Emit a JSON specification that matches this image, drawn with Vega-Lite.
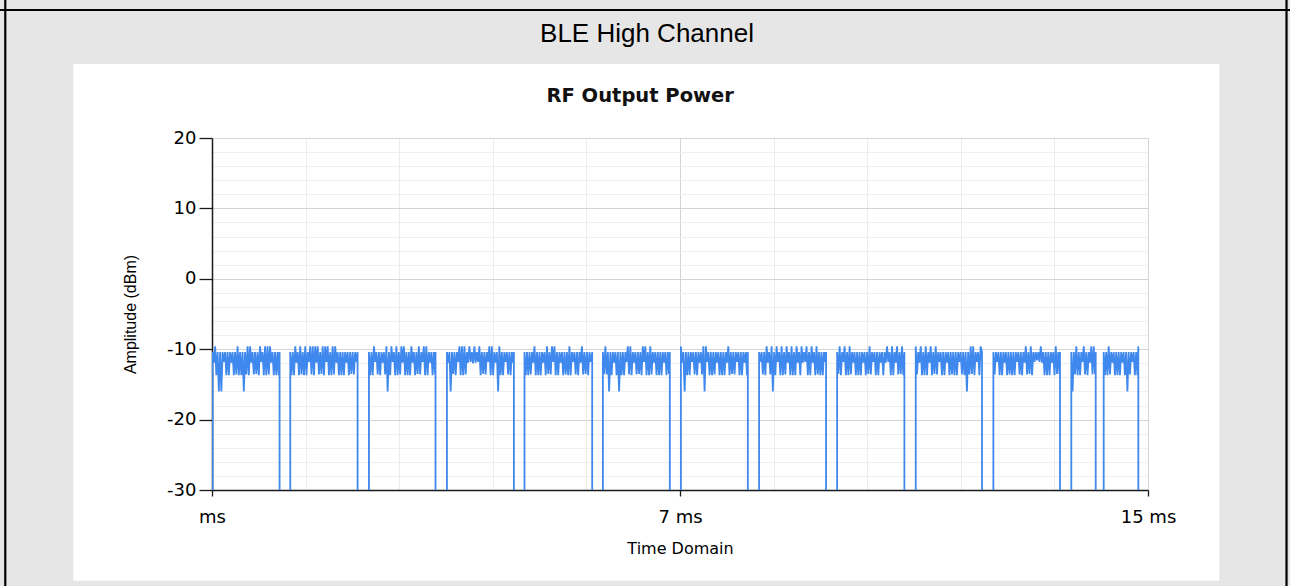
{
"$schema": "https://vega.github.io/schema/vega-lite/v6.json",
"width": 936, "height": 352,
"autosize": {"type": "none"},
"padding": {"left": 212, "top": 138, "right": 142, "bottom": 96},
"background": "white",
"config": {
  "view": {"stroke": "#d4d4d4", "strokeWidth": 1},
  "axis": {"labelFont": "DejaVu Sans", "titleFont": "DejaVu Sans", "labelColor": "#000000", "titleColor": "#000000", "titleFontWeight": "normal", "domainColor": "#1a1a1a", "tickColor": "#1a1a1a"}
},
"resolve": {"axis": {"x": "independent", "y": "independent"}},
"layer": [
  {
    "data": {"values": [{}]},
    "mark": {"type": "rect", "fill": "#e6e6e6", "clip": false},
    "encoding": {
      "x": {"datum": -10, "type": "quantitative", "scale": {"domain": [0, 15], "nice": false, "zero": false},
        "axis": {"orient": "bottom", "values": [1.5, 3, 4.5, 6, 9, 10.5, 12, 13.5], "grid": true, "gridColor": "#ececec", "labels": false, "ticks": false, "domain": false, "title": null}},
      "x2": {"datum": 30},
      "y": {"datum": 30.51, "type": "quantitative", "scale": {"domain": [-30, 20], "nice": false, "zero": false},
        "axis": {"orient": "left", "values": [-28, -26, -24, -22, -18, -16, -14, -12, -8, -6, -4, -2, 2, 4, 6, 8, 12, 14, 16, 18], "grid": true, "gridColor": "#efefef", "labels": false, "ticks": false, "domain": false, "title": null}},
      "y2": {"datum": 60}
    }
  },
  {
    "data": {"values": [{}]},
    "mark": {"type": "rect", "fill": "#e6e6e6", "clip": false},
    "encoding": {
      "x": {"datum": -10, "type": "quantitative", "scale": {"domain": [0, 15], "nice": false, "zero": false}, "axis": null},
      "x2": {"datum": 30},
      "y": {"datum": -42.88, "type": "quantitative", "scale": {"domain": [-30, 20], "nice": false, "zero": false}, "axis": null},
      "y2": {"datum": -60}
    }
  },
  {
    "data": {"values": [{}]},
    "mark": {"type": "rect", "fill": "#e6e6e6", "clip": false},
    "encoding": {
      "x": {"datum": -10, "type": "quantitative", "scale": {"domain": [0, 15], "nice": false, "zero": false}, "axis": null},
      "x2": {"datum": -2.223},
      "y": {"datum": -60, "type": "quantitative", "scale": {"domain": [-30, 20], "nice": false, "zero": false}, "axis": null},
      "y2": {"datum": 60}
    }
  },
  {
    "data": {"values": [{}]},
    "mark": {"type": "rect", "fill": "#e6e6e6", "clip": false},
    "encoding": {
      "x": {"datum": 16.143, "type": "quantitative", "scale": {"domain": [0, 15], "nice": false, "zero": false}, "axis": null},
      "x2": {"datum": 30},
      "y": {"datum": -60, "type": "quantitative", "scale": {"domain": [-30, 20], "nice": false, "zero": false}, "axis": null},
      "y2": {"datum": 60}
    }
  },
  {
    "data": {"values": [{}]},
    "mark": {"type": "rule", "color": "#000000", "strokeWidth": 2.2, "clip": false},
    "encoding": {
      "x": {"datum": -10, "type": "quantitative", "scale": {"domain": [0, 15], "nice": false, "zero": false}, "axis": null},
      "x2": {"datum": 30},
      "y": {"datum": 38.18, "type": "quantitative", "scale": {"domain": [-30, 20], "nice": false, "zero": false}, "axis": null}
    }
  },
  {
    "data": {"values": [{}]},
    "mark": {"type": "rule", "color": "#000000", "strokeWidth": 2.2, "clip": false},
    "encoding": {
      "x": {"datum": -3.313, "type": "quantitative", "scale": {"domain": [0, 15], "nice": false, "zero": false}, "axis": null},
      "y": {"datum": -60, "type": "quantitative", "scale": {"domain": [-30, 20], "nice": false, "zero": false}, "axis": null},
      "y2": {"datum": 60}
    }
  },
  {
    "data": {"values": [{}]},
    "mark": {"type": "rule", "color": "#000000", "strokeWidth": 2.2, "clip": false},
    "encoding": {
      "x": {"datum": 17.22, "type": "quantitative", "scale": {"domain": [0, 15], "nice": false, "zero": false}, "axis": null},
      "y": {"datum": -60, "type": "quantitative", "scale": {"domain": [-30, 20], "nice": false, "zero": false}, "axis": null},
      "y2": {"datum": 60}
    }
  },
  {
    "data": {"values": [{}]},
    "mark": {"type": "text", "text": "BLE High Channel", "font": "Liberation Sans", "fontSize": 26, "color": "#000000", "align": "center", "baseline": "alphabetic", "clip": false},
    "encoding": {
      "x": {"datum": 6.971, "type": "quantitative", "scale": {"domain": [0, 15], "nice": false, "zero": false}, "axis": null},
      "y": {"datum": 33.68, "type": "quantitative", "scale": {"domain": [-30, 20], "nice": false, "zero": false}, "axis": null}
    }
  },
  {
    "data": {"values": [{}]},
    "mark": {"type": "text", "text": "RF Output Power", "font": "DejaVu Sans", "fontWeight": "bold", "fontSize": 19.5, "color": "#111111", "align": "center", "baseline": "alphabetic", "clip": false},
    "encoding": {
      "x": {"datum": 6.862, "type": "quantitative", "scale": {"domain": [0, 15], "nice": false, "zero": false}, "axis": null},
      "y": {"datum": 25.15, "type": "quantitative", "scale": {"domain": [-30, 20], "nice": false, "zero": false}, "axis": null}
    }
  },
  {
    "data": {"values": [
{"ms":0.01,"dBm":-35},
{"ms":0.01,"dBm":-10.4},{"ms":0.03,"dBm":-11.9},{"ms":0.05,"dBm":-9.6},{"ms":0.07,"dBm":-13.7},{"ms":0.09,"dBm":-10.4},{"ms":0.11,"dBm":-16},{"ms":0.13,"dBm":-10.4},{"ms":0.15,"dBm":-16},{"ms":0.17,"dBm":-10.4},{"ms":0.19,"dBm":-11.8},{"ms":0.21,"dBm":-10.4},{"ms":0.23,"dBm":-13.7},{"ms":0.25,"dBm":-10.4},{"ms":0.27,"dBm":-13.7},{"ms":0.29,"dBm":-10.4},{"ms":0.31,"dBm":-11.9},{"ms":0.33,"dBm":-10.4},{"ms":0.35,"dBm":-13.7},{"ms":0.37,"dBm":-10.4},{"ms":0.39,"dBm":-13.6},{"ms":0.41,"dBm":-9.6},{"ms":0.43,"dBm":-13.7},{"ms":0.45,"dBm":-10.4},{"ms":0.47,"dBm":-13.7},{"ms":0.49,"dBm":-10.4},{"ms":0.51,"dBm":-16},{"ms":0.53,"dBm":-10.4},{"ms":0.55,"dBm":-13.6},{"ms":0.57,"dBm":-9.6},{"ms":0.59,"dBm":-13.7},{"ms":0.61,"dBm":-9.6},{"ms":0.63,"dBm":-11.9},{"ms":0.65,"dBm":-10.4},{"ms":0.67,"dBm":-13.6},{"ms":0.69,"dBm":-10.4},{"ms":0.71,"dBm":-13.5},{"ms":0.73,"dBm":-10.4},{"ms":0.75,"dBm":-13.7},{"ms":0.77,"dBm":-9.6},{"ms":0.79,"dBm":-11.8},{"ms":0.81,"dBm":-10.4},{"ms":0.83,"dBm":-13.7},{"ms":0.85,"dBm":-9.6},{"ms":0.87,"dBm":-13.7},{"ms":0.89,"dBm":-9.6},{"ms":0.91,"dBm":-13.6},{"ms":0.93,"dBm":-9.6},{"ms":0.95,"dBm":-11.9},{"ms":0.97,"dBm":-10.4},{"ms":0.99,"dBm":-13.7},{"ms":1.01,"dBm":-10.4},{"ms":1.03,"dBm":-13.7},{"ms":1.05,"dBm":-10.4},{"ms":1.07,"dBm":-13.7},{"ms":1.083,"dBm":-10.4},{"ms":1.083,"dBm":-35},
{"ms":1.254,"dBm":-35},{"ms":1.254,"dBm":-10.4},{"ms":1.274,"dBm":-13.7},{"ms":1.294,"dBm":-10.4},{"ms":1.314,"dBm":-13.7},{"ms":1.334,"dBm":-9.6},{"ms":1.354,"dBm":-11.9},{"ms":1.374,"dBm":-10.4},{"ms":1.394,"dBm":-13.7},{"ms":1.414,"dBm":-9.6},{"ms":1.434,"dBm":-13.6},{"ms":1.454,"dBm":-10.4},{"ms":1.474,"dBm":-13.7},{"ms":1.494,"dBm":-9.6},{"ms":1.514,"dBm":-13.7},{"ms":1.534,"dBm":-10.4},{"ms":1.554,"dBm":-11.8},{"ms":1.574,"dBm":-9.6},{"ms":1.594,"dBm":-13.6},{"ms":1.614,"dBm":-9.6},{"ms":1.634,"dBm":-13.7},{"ms":1.654,"dBm":-9.6},{"ms":1.674,"dBm":-11.9},{"ms":1.694,"dBm":-9.6},{"ms":1.714,"dBm":-13.6},{"ms":1.734,"dBm":-10.4},{"ms":1.754,"dBm":-13.5},{"ms":1.774,"dBm":-9.6},{"ms":1.794,"dBm":-13.7},{"ms":1.814,"dBm":-9.6},{"ms":1.834,"dBm":-11.8},{"ms":1.854,"dBm":-9.6},{"ms":1.874,"dBm":-13.7},{"ms":1.894,"dBm":-10.4},{"ms":1.914,"dBm":-13.7},{"ms":1.934,"dBm":-9.6},{"ms":1.954,"dBm":-13.6},{"ms":1.974,"dBm":-9.6},{"ms":1.994,"dBm":-11.9},{"ms":2.014,"dBm":-10.4},{"ms":2.034,"dBm":-13.7},{"ms":2.054,"dBm":-10.4},{"ms":2.074,"dBm":-13.7},{"ms":2.094,"dBm":-10.4},{"ms":2.114,"dBm":-13.7},{"ms":2.134,"dBm":-10.4},{"ms":2.154,"dBm":-11.9},{"ms":2.174,"dBm":-10.4},{"ms":2.194,"dBm":-13.7},{"ms":2.214,"dBm":-10.4},{"ms":2.234,"dBm":-13.5},{"ms":2.254,"dBm":-10.4},{"ms":2.274,"dBm":-13.6},{"ms":2.294,"dBm":-10.4},{"ms":2.314,"dBm":-11.8},{"ms":2.333,"dBm":-10.4},{"ms":2.333,"dBm":-35},
{"ms":2.515,"dBm":-35},{"ms":2.515,"dBm":-10.4},{"ms":2.535,"dBm":-13.7},{"ms":2.555,"dBm":-10.4},{"ms":2.575,"dBm":-13.7},{"ms":2.595,"dBm":-9.6},{"ms":2.615,"dBm":-11.8},{"ms":2.635,"dBm":-10.4},{"ms":2.655,"dBm":-13.6},{"ms":2.675,"dBm":-10.4},{"ms":2.695,"dBm":-13.7},{"ms":2.715,"dBm":-10.4},{"ms":2.735,"dBm":-11.9},{"ms":2.755,"dBm":-10.4},{"ms":2.775,"dBm":-13.6},{"ms":2.795,"dBm":-9.6},{"ms":2.815,"dBm":-16},{"ms":2.835,"dBm":-10.4},{"ms":2.855,"dBm":-13.7},{"ms":2.875,"dBm":-9.6},{"ms":2.895,"dBm":-11.8},{"ms":2.915,"dBm":-10.4},{"ms":2.935,"dBm":-13.7},{"ms":2.955,"dBm":-9.6},{"ms":2.975,"dBm":-13.7},{"ms":2.995,"dBm":-10.4},{"ms":3.015,"dBm":-13.6},{"ms":3.035,"dBm":-9.6},{"ms":3.055,"dBm":-11.9},{"ms":3.075,"dBm":-9.6},{"ms":3.095,"dBm":-13.7},{"ms":3.115,"dBm":-10.4},{"ms":3.135,"dBm":-13.7},{"ms":3.155,"dBm":-10.4},{"ms":3.175,"dBm":-13.7},{"ms":3.195,"dBm":-9.6},{"ms":3.215,"dBm":-11.9},{"ms":3.235,"dBm":-10.4},{"ms":3.255,"dBm":-13.7},{"ms":3.275,"dBm":-10.4},{"ms":3.295,"dBm":-13.5},{"ms":3.315,"dBm":-9.6},{"ms":3.335,"dBm":-13.6},{"ms":3.355,"dBm":-10.4},{"ms":3.375,"dBm":-11.8},{"ms":3.395,"dBm":-9.6},{"ms":3.415,"dBm":-13.7},{"ms":3.435,"dBm":-9.6},{"ms":3.455,"dBm":-13.7},{"ms":3.475,"dBm":-10.4},{"ms":3.495,"dBm":-11.9},{"ms":3.515,"dBm":-10.4},{"ms":3.535,"dBm":-13.7},{"ms":3.555,"dBm":-10.4},{"ms":3.575,"dBm":-13.6},{"ms":3.582,"dBm":-10.4},{"ms":3.582,"dBm":-35},
{"ms":3.765,"dBm":-35},{"ms":3.765,"dBm":-10.4},{"ms":3.785,"dBm":-11.9},{"ms":3.805,"dBm":-10.4},{"ms":3.825,"dBm":-16},{"ms":3.845,"dBm":-10.4},{"ms":3.865,"dBm":-13.5},{"ms":3.885,"dBm":-10.4},{"ms":3.905,"dBm":-13.7},{"ms":3.925,"dBm":-10.4},{"ms":3.945,"dBm":-11.8},{"ms":3.965,"dBm":-9.6},{"ms":3.985,"dBm":-13.7},{"ms":4.005,"dBm":-9.6},{"ms":4.025,"dBm":-13.7},{"ms":4.045,"dBm":-9.6},{"ms":4.065,"dBm":-13.6},{"ms":4.085,"dBm":-10.4},{"ms":4.105,"dBm":-11.9},{"ms":4.125,"dBm":-9.6},{"ms":4.145,"dBm":-11.8},{"ms":4.165,"dBm":-10.4},{"ms":4.185,"dBm":-12.0},{"ms":4.205,"dBm":-9.6},{"ms":4.225,"dBm":-11.9},{"ms":4.245,"dBm":-10.4},{"ms":4.265,"dBm":-11.8},{"ms":4.285,"dBm":-9.6},{"ms":4.305,"dBm":-13.7},{"ms":4.325,"dBm":-10.4},{"ms":4.345,"dBm":-13.5},{"ms":4.365,"dBm":-10.4},{"ms":4.385,"dBm":-13.6},{"ms":4.405,"dBm":-10.4},{"ms":4.425,"dBm":-11.8},{"ms":4.445,"dBm":-9.6},{"ms":4.465,"dBm":-13.7},{"ms":4.485,"dBm":-9.6},{"ms":4.505,"dBm":-13.7},{"ms":4.525,"dBm":-10.4},{"ms":4.545,"dBm":-11.9},{"ms":4.565,"dBm":-10.4},{"ms":4.585,"dBm":-16},{"ms":4.605,"dBm":-9.6},{"ms":4.625,"dBm":-13.7},{"ms":4.645,"dBm":-10.4},{"ms":4.665,"dBm":-13.7},{"ms":4.685,"dBm":-10.4},{"ms":4.705,"dBm":-11.8},{"ms":4.725,"dBm":-10.4},{"ms":4.745,"dBm":-13.6},{"ms":4.765,"dBm":-10.4},{"ms":4.785,"dBm":-13.7},{"ms":4.805,"dBm":-10.4},{"ms":4.825,"dBm":-11.9},{"ms":4.838,"dBm":-10.4},{"ms":4.838,"dBm":-35},
{"ms":5.008,"dBm":-35},{"ms":5.008,"dBm":-10.4},{"ms":5.028,"dBm":-13.7},{"ms":5.048,"dBm":-10.4},{"ms":5.068,"dBm":-13.7},{"ms":5.088,"dBm":-10.4},{"ms":5.108,"dBm":-13.6},{"ms":5.128,"dBm":-10.4},{"ms":5.148,"dBm":-11.9},{"ms":5.168,"dBm":-9.6},{"ms":5.188,"dBm":-13.7},{"ms":5.208,"dBm":-10.4},{"ms":5.228,"dBm":-13.7},{"ms":5.248,"dBm":-10.4},{"ms":5.268,"dBm":-13.7},{"ms":5.288,"dBm":-10.4},{"ms":5.308,"dBm":-11.9},{"ms":5.328,"dBm":-10.4},{"ms":5.348,"dBm":-13.7},{"ms":5.368,"dBm":-9.6},{"ms":5.388,"dBm":-13.5},{"ms":5.408,"dBm":-10.4},{"ms":5.428,"dBm":-13.6},{"ms":5.448,"dBm":-9.6},{"ms":5.468,"dBm":-11.8},{"ms":5.488,"dBm":-9.6},{"ms":5.508,"dBm":-13.7},{"ms":5.528,"dBm":-10.4},{"ms":5.548,"dBm":-13.7},{"ms":5.568,"dBm":-10.4},{"ms":5.588,"dBm":-11.9},{"ms":5.608,"dBm":-10.4},{"ms":5.628,"dBm":-13.7},{"ms":5.648,"dBm":-10.4},{"ms":5.668,"dBm":-13.6},{"ms":5.688,"dBm":-10.4},{"ms":5.708,"dBm":-13.7},{"ms":5.728,"dBm":-9.6},{"ms":5.748,"dBm":-13.7},{"ms":5.768,"dBm":-10.4},{"ms":5.788,"dBm":-11.8},{"ms":5.808,"dBm":-10.4},{"ms":5.828,"dBm":-13.6},{"ms":5.848,"dBm":-10.4},{"ms":5.868,"dBm":-13.7},{"ms":5.888,"dBm":-10.4},{"ms":5.908,"dBm":-11.9},{"ms":5.928,"dBm":-9.6},{"ms":5.948,"dBm":-13.6},{"ms":5.968,"dBm":-10.4},{"ms":5.988,"dBm":-13.5},{"ms":6.008,"dBm":-10.4},{"ms":6.028,"dBm":-13.7},{"ms":6.048,"dBm":-10.4},{"ms":6.068,"dBm":-11.8},{"ms":6.093,"dBm":-10.4},{"ms":6.093,"dBm":-35},
{"ms":6.264,"dBm":-35},{"ms":6.264,"dBm":-10.4},{"ms":6.284,"dBm":-13.5},{"ms":6.304,"dBm":-9.6},{"ms":6.324,"dBm":-13.6},{"ms":6.344,"dBm":-10.4},{"ms":6.364,"dBm":-16},{"ms":6.384,"dBm":-10.4},{"ms":6.404,"dBm":-13.7},{"ms":6.424,"dBm":-10.4},{"ms":6.444,"dBm":-11.9},{"ms":6.464,"dBm":-10.4},{"ms":6.484,"dBm":-13.7},{"ms":6.504,"dBm":-10.4},{"ms":6.524,"dBm":-16},{"ms":6.544,"dBm":-10.4},{"ms":6.564,"dBm":-13.7},{"ms":6.584,"dBm":-10.4},{"ms":6.604,"dBm":-13.7},{"ms":6.624,"dBm":-10.4},{"ms":6.644,"dBm":-11.8},{"ms":6.664,"dBm":-9.6},{"ms":6.684,"dBm":-13.6},{"ms":6.704,"dBm":-9.6},{"ms":6.724,"dBm":-13.7},{"ms":6.744,"dBm":-10.4},{"ms":6.764,"dBm":-11.9},{"ms":6.784,"dBm":-10.4},{"ms":6.804,"dBm":-13.6},{"ms":6.824,"dBm":-10.4},{"ms":6.844,"dBm":-13.5},{"ms":6.864,"dBm":-10.4},{"ms":6.884,"dBm":-13.7},{"ms":6.904,"dBm":-9.6},{"ms":6.924,"dBm":-11.8},{"ms":6.944,"dBm":-9.6},{"ms":6.964,"dBm":-13.7},{"ms":6.984,"dBm":-10.4},{"ms":7.004,"dBm":-13.7},{"ms":7.024,"dBm":-9.6},{"ms":7.044,"dBm":-13.6},{"ms":7.064,"dBm":-10.4},{"ms":7.084,"dBm":-11.9},{"ms":7.104,"dBm":-10.4},{"ms":7.124,"dBm":-13.7},{"ms":7.144,"dBm":-10.4},{"ms":7.164,"dBm":-13.7},{"ms":7.184,"dBm":-10.4},{"ms":7.204,"dBm":-13.7},{"ms":7.224,"dBm":-10.4},{"ms":7.244,"dBm":-11.9},{"ms":7.264,"dBm":-10.4},{"ms":7.284,"dBm":-13.7},{"ms":7.304,"dBm":-10.4},{"ms":7.324,"dBm":-13.5},{"ms":7.337,"dBm":-10.4},{"ms":7.337,"dBm":-35},
{"ms":7.514,"dBm":-35},{"ms":7.514,"dBm":-9.6},{"ms":7.534,"dBm":-11.9},{"ms":7.554,"dBm":-10.4},{"ms":7.574,"dBm":-16},{"ms":7.594,"dBm":-10.4},{"ms":7.614,"dBm":-13.7},{"ms":7.634,"dBm":-10.4},{"ms":7.654,"dBm":-13.7},{"ms":7.674,"dBm":-10.4},{"ms":7.694,"dBm":-11.8},{"ms":7.714,"dBm":-10.4},{"ms":7.734,"dBm":-13.6},{"ms":7.754,"dBm":-10.4},{"ms":7.774,"dBm":-13.7},{"ms":7.794,"dBm":-10.4},{"ms":7.814,"dBm":-11.9},{"ms":7.834,"dBm":-10.4},{"ms":7.854,"dBm":-13.6},{"ms":7.874,"dBm":-9.6},{"ms":7.894,"dBm":-16},{"ms":7.914,"dBm":-9.6},{"ms":7.934,"dBm":-11.8},{"ms":7.954,"dBm":-10.4},{"ms":7.974,"dBm":-13.7},{"ms":7.994,"dBm":-10.4},{"ms":8.014,"dBm":-13.7},{"ms":8.034,"dBm":-10.4},{"ms":8.054,"dBm":-13.6},{"ms":8.074,"dBm":-10.4},{"ms":8.094,"dBm":-11.9},{"ms":8.114,"dBm":-10.4},{"ms":8.134,"dBm":-13.7},{"ms":8.154,"dBm":-10.4},{"ms":8.174,"dBm":-13.7},{"ms":8.194,"dBm":-10.4},{"ms":8.214,"dBm":-13.7},{"ms":8.234,"dBm":-10.4},{"ms":8.254,"dBm":-11.9},{"ms":8.274,"dBm":-9.6},{"ms":8.294,"dBm":-13.7},{"ms":8.314,"dBm":-10.4},{"ms":8.334,"dBm":-13.5},{"ms":8.354,"dBm":-10.4},{"ms":8.374,"dBm":-13.6},{"ms":8.394,"dBm":-10.4},{"ms":8.414,"dBm":-11.8},{"ms":8.434,"dBm":-10.4},{"ms":8.454,"dBm":-13.7},{"ms":8.474,"dBm":-10.4},{"ms":8.494,"dBm":-13.7},{"ms":8.514,"dBm":-10.4},{"ms":8.534,"dBm":-11.9},{"ms":8.554,"dBm":-10.4},{"ms":8.574,"dBm":-13.7},{"ms":8.587,"dBm":-10.4},{"ms":8.587,"dBm":-35},
{"ms":8.768,"dBm":-35},{"ms":8.768,"dBm":-10.4},{"ms":8.788,"dBm":-11.8},{"ms":8.808,"dBm":-10.4},{"ms":8.828,"dBm":-13.6},{"ms":8.848,"dBm":-10.4},{"ms":8.868,"dBm":-13.7},{"ms":8.888,"dBm":-9.6},{"ms":8.908,"dBm":-11.9},{"ms":8.928,"dBm":-10.4},{"ms":8.948,"dBm":-13.6},{"ms":8.968,"dBm":-9.6},{"ms":8.988,"dBm":-16},{"ms":9.008,"dBm":-10.4},{"ms":9.028,"dBm":-13.7},{"ms":9.048,"dBm":-9.6},{"ms":9.068,"dBm":-11.8},{"ms":9.088,"dBm":-10.4},{"ms":9.108,"dBm":-13.7},{"ms":9.128,"dBm":-9.6},{"ms":9.148,"dBm":-13.7},{"ms":9.168,"dBm":-10.4},{"ms":9.188,"dBm":-13.6},{"ms":9.208,"dBm":-9.6},{"ms":9.228,"dBm":-11.9},{"ms":9.248,"dBm":-10.4},{"ms":9.268,"dBm":-13.7},{"ms":9.288,"dBm":-9.6},{"ms":9.308,"dBm":-13.7},{"ms":9.328,"dBm":-10.4},{"ms":9.348,"dBm":-13.7},{"ms":9.368,"dBm":-9.6},{"ms":9.388,"dBm":-11.9},{"ms":9.408,"dBm":-10.4},{"ms":9.428,"dBm":-13.7},{"ms":9.448,"dBm":-9.6},{"ms":9.468,"dBm":-11.9},{"ms":9.488,"dBm":-10.4},{"ms":9.508,"dBm":-11.8},{"ms":9.528,"dBm":-9.6},{"ms":9.548,"dBm":-13.7},{"ms":9.568,"dBm":-10.4},{"ms":9.588,"dBm":-13.7},{"ms":9.608,"dBm":-9.6},{"ms":9.628,"dBm":-11.9},{"ms":9.648,"dBm":-10.4},{"ms":9.668,"dBm":-13.7},{"ms":9.688,"dBm":-9.6},{"ms":9.708,"dBm":-13.6},{"ms":9.728,"dBm":-10.4},{"ms":9.748,"dBm":-13.7},{"ms":9.768,"dBm":-10.4},{"ms":9.788,"dBm":-13.7},{"ms":9.808,"dBm":-10.4},{"ms":9.828,"dBm":-11.8},{"ms":9.841,"dBm":-10.4},{"ms":9.841,"dBm":-35},
{"ms":10.018,"dBm":-35},{"ms":10.018,"dBm":-10.4},{"ms":10.038,"dBm":-13.5},{"ms":10.058,"dBm":-9.6},{"ms":10.078,"dBm":-13.7},{"ms":10.098,"dBm":-10.4},{"ms":10.118,"dBm":-11.8},{"ms":10.138,"dBm":-9.6},{"ms":10.158,"dBm":-13.7},{"ms":10.178,"dBm":-10.4},{"ms":10.198,"dBm":-13.7},{"ms":10.218,"dBm":-9.6},{"ms":10.238,"dBm":-13.6},{"ms":10.258,"dBm":-10.4},{"ms":10.278,"dBm":-11.9},{"ms":10.298,"dBm":-10.4},{"ms":10.318,"dBm":-13.7},{"ms":10.338,"dBm":-10.4},{"ms":10.358,"dBm":-13.7},{"ms":10.378,"dBm":-10.4},{"ms":10.398,"dBm":-13.7},{"ms":10.418,"dBm":-10.4},{"ms":10.438,"dBm":-11.9},{"ms":10.458,"dBm":-10.4},{"ms":10.478,"dBm":-13.7},{"ms":10.498,"dBm":-10.4},{"ms":10.518,"dBm":-13.5},{"ms":10.538,"dBm":-9.6},{"ms":10.558,"dBm":-13.6},{"ms":10.578,"dBm":-10.4},{"ms":10.598,"dBm":-11.8},{"ms":10.618,"dBm":-10.4},{"ms":10.638,"dBm":-13.7},{"ms":10.658,"dBm":-10.4},{"ms":10.678,"dBm":-13.7},{"ms":10.698,"dBm":-10.4},{"ms":10.718,"dBm":-11.9},{"ms":10.738,"dBm":-10.4},{"ms":10.758,"dBm":-13.7},{"ms":10.778,"dBm":-10.4},{"ms":10.798,"dBm":-11.9},{"ms":10.818,"dBm":-9.6},{"ms":10.838,"dBm":-11.8},{"ms":10.858,"dBm":-10.4},{"ms":10.878,"dBm":-13.7},{"ms":10.898,"dBm":-9.6},{"ms":10.918,"dBm":-13.7},{"ms":10.938,"dBm":-10.4},{"ms":10.958,"dBm":-11.9},{"ms":10.978,"dBm":-9.6},{"ms":10.998,"dBm":-13.6},{"ms":11.018,"dBm":-10.4},{"ms":11.038,"dBm":-13.5},{"ms":11.058,"dBm":-9.6},{"ms":11.078,"dBm":-13.7},{"ms":11.096,"dBm":-10.4},{"ms":11.096,"dBm":-35},
{"ms":11.278,"dBm":-35},{"ms":11.278,"dBm":-9.6},{"ms":11.298,"dBm":-13.6},{"ms":11.318,"dBm":-10.4},{"ms":11.338,"dBm":-11.9},{"ms":11.358,"dBm":-9.6},{"ms":11.378,"dBm":-13.7},{"ms":11.398,"dBm":-10.4},{"ms":11.418,"dBm":-13.7},{"ms":11.438,"dBm":-9.6},{"ms":11.458,"dBm":-13.7},{"ms":11.478,"dBm":-10.4},{"ms":11.498,"dBm":-11.9},{"ms":11.518,"dBm":-9.6},{"ms":11.538,"dBm":-13.7},{"ms":11.558,"dBm":-10.4},{"ms":11.578,"dBm":-13.5},{"ms":11.598,"dBm":-9.6},{"ms":11.618,"dBm":-13.6},{"ms":11.638,"dBm":-10.4},{"ms":11.658,"dBm":-11.8},{"ms":11.678,"dBm":-10.4},{"ms":11.698,"dBm":-13.7},{"ms":11.718,"dBm":-10.4},{"ms":11.738,"dBm":-13.7},{"ms":11.758,"dBm":-10.4},{"ms":11.778,"dBm":-11.9},{"ms":11.798,"dBm":-10.4},{"ms":11.818,"dBm":-13.7},{"ms":11.838,"dBm":-10.4},{"ms":11.858,"dBm":-13.6},{"ms":11.878,"dBm":-10.4},{"ms":11.898,"dBm":-13.7},{"ms":11.918,"dBm":-10.4},{"ms":11.938,"dBm":-13.7},{"ms":11.958,"dBm":-10.4},{"ms":11.978,"dBm":-11.8},{"ms":11.998,"dBm":-10.4},{"ms":12.018,"dBm":-13.6},{"ms":12.038,"dBm":-10.4},{"ms":12.058,"dBm":-13.7},{"ms":12.078,"dBm":-10.4},{"ms":12.098,"dBm":-16},{"ms":12.118,"dBm":-10.4},{"ms":12.138,"dBm":-13.6},{"ms":12.158,"dBm":-9.6},{"ms":12.178,"dBm":-13.5},{"ms":12.198,"dBm":-9.6},{"ms":12.218,"dBm":-13.7},{"ms":12.238,"dBm":-10.4},{"ms":12.258,"dBm":-11.8},{"ms":12.278,"dBm":-10.4},{"ms":12.298,"dBm":-13.7},{"ms":12.318,"dBm":-9.6},{"ms":12.34,"dBm":-10.4},{"ms":12.34,"dBm":-35},
{"ms":12.522,"dBm":-35},{"ms":12.522,"dBm":-10.4},{"ms":12.542,"dBm":-13.6},{"ms":12.562,"dBm":-10.4},{"ms":12.582,"dBm":-11.8},{"ms":12.602,"dBm":-10.4},{"ms":12.622,"dBm":-13.7},{"ms":12.642,"dBm":-10.4},{"ms":12.662,"dBm":-13.7},{"ms":12.682,"dBm":-10.4},{"ms":12.702,"dBm":-11.9},{"ms":12.722,"dBm":-10.4},{"ms":12.742,"dBm":-13.7},{"ms":12.762,"dBm":-10.4},{"ms":12.782,"dBm":-13.6},{"ms":12.802,"dBm":-10.4},{"ms":12.822,"dBm":-13.7},{"ms":12.842,"dBm":-10.4},{"ms":12.862,"dBm":-13.7},{"ms":12.882,"dBm":-10.4},{"ms":12.902,"dBm":-11.8},{"ms":12.922,"dBm":-10.4},{"ms":12.942,"dBm":-13.6},{"ms":12.962,"dBm":-10.4},{"ms":12.982,"dBm":-13.7},{"ms":13.002,"dBm":-10.4},{"ms":13.022,"dBm":-11.9},{"ms":13.042,"dBm":-9.6},{"ms":13.062,"dBm":-13.6},{"ms":13.082,"dBm":-10.4},{"ms":13.102,"dBm":-13.5},{"ms":13.122,"dBm":-9.6},{"ms":13.142,"dBm":-13.7},{"ms":13.162,"dBm":-10.4},{"ms":13.182,"dBm":-11.8},{"ms":13.202,"dBm":-10.4},{"ms":13.222,"dBm":-11.6},{"ms":13.242,"dBm":-10.4},{"ms":13.262,"dBm":-11.8},{"ms":13.282,"dBm":-9.6},{"ms":13.302,"dBm":-11.9},{"ms":13.322,"dBm":-10.4},{"ms":13.342,"dBm":-13.7},{"ms":13.362,"dBm":-10.4},{"ms":13.382,"dBm":-13.7},{"ms":13.402,"dBm":-10.4},{"ms":13.422,"dBm":-13.7},{"ms":13.442,"dBm":-10.4},{"ms":13.462,"dBm":-11.9},{"ms":13.482,"dBm":-10.4},{"ms":13.502,"dBm":-13.7},{"ms":13.522,"dBm":-9.6},{"ms":13.542,"dBm":-13.5},{"ms":13.562,"dBm":-10.4},{"ms":13.582,"dBm":-13.6},{"ms":13.59,"dBm":-10.4},{"ms":13.59,"dBm":-35},
{"ms":13.771,"dBm":-35},{"ms":13.771,"dBm":-10.4},{"ms":13.791,"dBm":-16},{"ms":13.811,"dBm":-10.4},{"ms":13.831,"dBm":-13.6},{"ms":13.851,"dBm":-9.6},{"ms":13.871,"dBm":-13.7},{"ms":13.891,"dBm":-10.4},{"ms":13.911,"dBm":-13.7},{"ms":13.931,"dBm":-10.4},{"ms":13.951,"dBm":-11.8},{"ms":13.971,"dBm":-9.6},{"ms":13.991,"dBm":-13.6},{"ms":14.011,"dBm":-10.4},{"ms":14.031,"dBm":-13.7},{"ms":14.051,"dBm":-10.4},{"ms":14.071,"dBm":-11.9},{"ms":14.091,"dBm":-9.6},{"ms":14.111,"dBm":-13.6},{"ms":14.131,"dBm":-9.6},{"ms":14.151,"dBm":-13.5},{"ms":14.162,"dBm":-10.4},{"ms":14.162,"dBm":-35},
{"ms":14.29,"dBm":-35},{"ms":14.29,"dBm":-10.4},{"ms":14.31,"dBm":-13.7},{"ms":14.33,"dBm":-10.4},{"ms":14.35,"dBm":-13.7},{"ms":14.37,"dBm":-9.6},{"ms":14.39,"dBm":-13.6},{"ms":14.41,"dBm":-10.4},{"ms":14.43,"dBm":-11.9},{"ms":14.45,"dBm":-10.4},{"ms":14.47,"dBm":-13.7},{"ms":14.49,"dBm":-10.4},{"ms":14.51,"dBm":-13.7},{"ms":14.53,"dBm":-10.4},{"ms":14.55,"dBm":-13.7},{"ms":14.57,"dBm":-10.4},{"ms":14.59,"dBm":-11.9},{"ms":14.61,"dBm":-10.4},{"ms":14.63,"dBm":-13.7},{"ms":14.65,"dBm":-10.4},{"ms":14.67,"dBm":-16},{"ms":14.69,"dBm":-10.4},{"ms":14.71,"dBm":-13.6},{"ms":14.73,"dBm":-10.4},{"ms":14.75,"dBm":-11.8},{"ms":14.77,"dBm":-10.4},{"ms":14.79,"dBm":-13.7},{"ms":14.81,"dBm":-10.4},{"ms":14.83,"dBm":-13.7},{"ms":14.845,"dBm":-9.6},{"ms":14.845,"dBm":-35},{"ms":15,"dBm":-35}
    ]},
    "mark": {"type": "line", "color": "#3f88ee", "strokeWidth": 1.8, "clip": true, "strokeJoin": "bevel"},
    "encoding": {
      "x": {"field": "ms", "type": "quantitative", "scale": {"domain": [0, 15], "nice": false, "zero": false},
        "axis": {"orient": "bottom", "values": [0, 7.5, 15], "labelExpr": "datum.value == 0 ? 'ms' : (datum.value == 7.5 ? '7 ms' : '15 ms')", "labelFlush": false, "labelOverlap": false, "labelFontSize": 18, "labelPadding": 12, "tickSize": 6, "tickWidth": 1.3, "domainWidth": 1.5, "grid": true, "gridColor": "#d4d4d4", "title": "Time Domain", "titleFontSize": 16, "titlePadding": 14}},
      "y": {"field": "dBm", "type": "quantitative", "scale": {"domain": [-30, 20], "nice": false, "zero": false},
        "axis": {"orient": "left", "values": [-30, -20, -10, 0, 10, 20], "labelExpr": "datum.value < 0 ? '-' + abs(datum.value) : '' + datum.value", "labelFontSize": 18, "labelPadding": 3, "tickSize": 13, "tickWidth": 1.3, "domainWidth": 1.5, "grid": true, "gridColor": "#d4d4d4", "title": "Amplitude (dBm)", "titleFont": "Liberation Sans", "titleFontSize": 16, "titlePadding": 28}}
    }
  }
]
}
